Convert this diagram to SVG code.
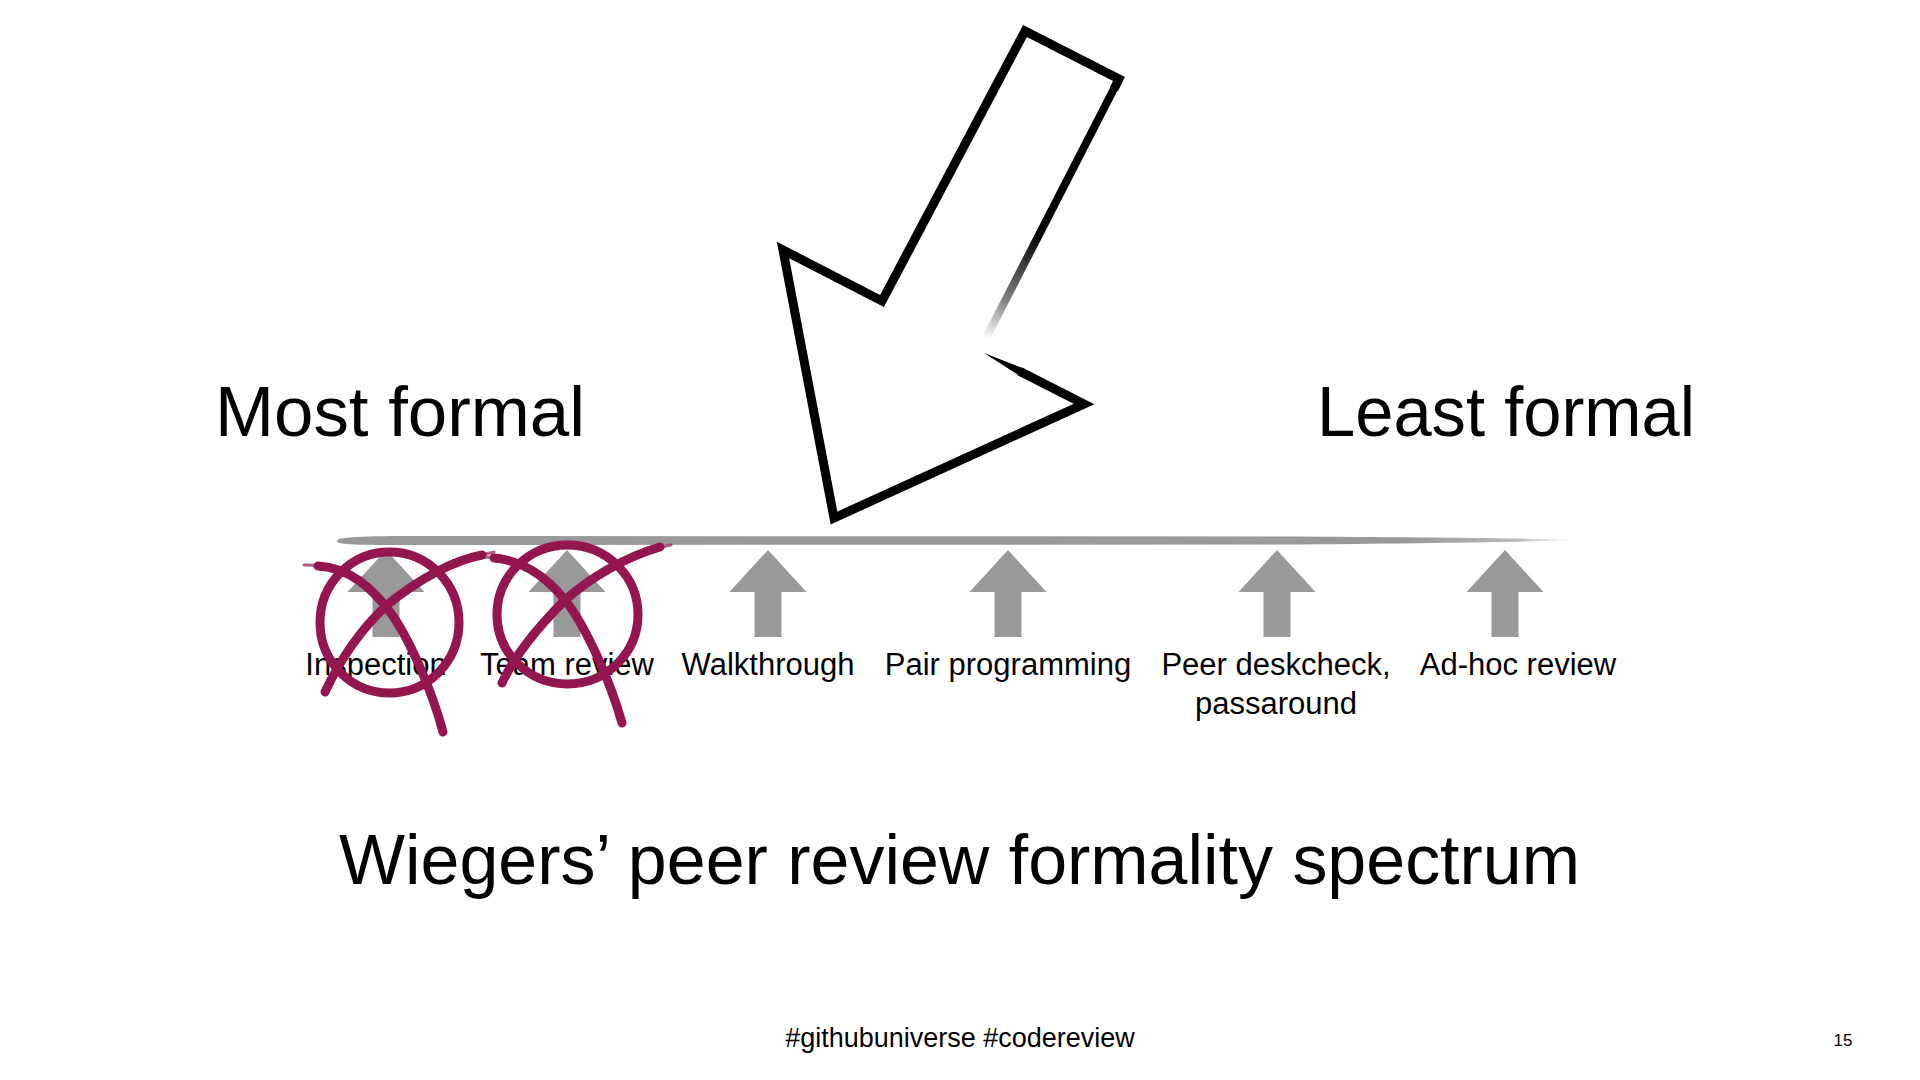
<svg xmlns="http://www.w3.org/2000/svg" width="1920" height="1080" viewBox="0 0 1920 1080">
  <style>
    .big { font-family: "Liberation Sans", Arial, sans-serif; font-size: 71px; fill: #000; }
    .lbl { font-family: "Liberation Sans", Arial, sans-serif; font-size: 31px; fill: #000; text-anchor: middle; }
    .foot { font-family: "Liberation Sans", Arial, sans-serif; font-size: 27px; fill: #000; text-anchor: middle; }
    .pnum { font-family: "Liberation Sans", Arial, sans-serif; font-size: 17px; fill: #000; text-anchor: middle; }
    .uparrow { fill: #999999; }
    .cross { fill: none; stroke: #931650; stroke-width: 9; stroke-linecap: round; stroke-linejoin: round; }
    .brush { fill: none; stroke: #931650; stroke-width: 3; stroke-linecap: round; opacity: 0.7; }
    .outline { fill: none; stroke: #000; stroke-width: 9; stroke-linejoin: miter; stroke-miterlimit: 6; }
  </style>
  <defs>
    <path id="up" class="uparrow" d="M0,550 L38.5,592 L13.5,592 L13.5,637 L-13.5,637 L-13.5,592 L-38.5,592 Z"/>
    <linearGradient id="lineFade" gradientUnits="userSpaceOnUse" x1="337" y1="0" x2="1582" y2="0">
      <stop offset="0" stop-color="#999999"/>
      <stop offset="0.86" stop-color="#999999"/>
      <stop offset="0.95" stop-color="#aaaaaa" stop-opacity="0.8"/>
      <stop offset="1" stop-color="#cccccc" stop-opacity="0"/>
    </linearGradient>
    <linearGradient id="shaftFade" gradientUnits="userSpaceOnUse" x1="1119" y1="79" x2="986" y2="338">
      <stop offset="0" stop-color="#000"/>
      <stop offset="0.6" stop-color="#000"/>
      <stop offset="0.85" stop-color="#000" stop-opacity="0.5"/>
      <stop offset="1" stop-color="#000" stop-opacity="0"/>
    </linearGradient>
  </defs>

  <rect width="1920" height="1080" fill="#ffffff"/>

  <!-- headings -->
  <g id="most-formal"><text class="big" x="215" y="436" textLength="370" lengthAdjust="spacingAndGlyphs">Most formal</text></g>
  <g id="least-formal"><text class="big" x="1317" y="436" textLength="378" lengthAdjust="spacingAndGlyphs">Least formal</text></g>
  <g id="title"><text class="big" x="339" y="884" textLength="1241" lengthAdjust="spacingAndGlyphs">Wiegers’ peer review formality spectrum</text></g>

  <!-- spectrum line -->
  <g id="spectrum-line">
    <path fill="url(#lineFade)" d="M337,541 C337,537.5 352,536.5 400,536 L1300,536.5 C1450,537.5 1540,538.5 1582,540 C1540,541.5 1450,543 1300,544.5 L400,545 C352,545 337,544.5 337,541 Z"/>
  </g>

  <!-- big pointing arrow -->
  <g id="formality-arrow">
    <path d="M984,353 L1026.1,369.4 L1022.1,377.4 Z" fill="#000"/>
    <path class="outline" d="M1019.6,371.2 L1084,404 L834,518 L783,250 L882,301 L1025,31 L1119,79 L1114,89"/>
    <path d="M1119,79 L986,338" fill="none" stroke="url(#shaftFade)" stroke-width="8" stroke-linecap="butt"/>
  </g>

  <!-- nodes -->
  <g id="node-inspection">
    <use href="#up" x="386"/>
    <text class="lbl" x="376" y="675">Inspection</text>
  </g>
  <g id="node-team-review">
    <use href="#up" x="567"/>
    <text class="lbl" x="567" y="675">Team review</text>
  </g>
  <g id="node-walkthrough">
    <use href="#up" x="768"/>
    <text class="lbl" x="768" y="675">Walkthrough</text>
  </g>
  <g id="node-pair-programming">
    <use href="#up" x="1008"/>
    <text class="lbl" x="1008" y="675">Pair programming</text>
  </g>
  <g id="node-peer-deskcheck">
    <use href="#up" x="1277"/>
    <text class="lbl" x="1276" y="675">Peer deskcheck,</text>
    <text class="lbl" x="1276" y="714">passaround</text>
  </g>
  <g id="node-adhoc-review">
    <use href="#up" x="1505"/>
    <text class="lbl" x="1518" y="675">Ad-hoc review</text>
  </g>

  <!-- crossed-out marks -->
  <g id="crosses">
    <ellipse class="cross" cx="389.5" cy="622.5" rx="69.5" ry="70.5"/>
    <path class="cross" d="M318,566 C350,568 372,588 390,612 C408,636 432,690 443,732"/>
    <path class="brush" d="M304,565 C312,565 318,565 326,566"/>
    <path class="cross" d="M325,692 C340,660 360,630 387,605 C420,578 455,560 482,555"/>
    <path class="brush" d="M478,556 C485,554 490,553 494,552"/>

    <ellipse class="cross" cx="567.5" cy="614.5" rx="70.5" ry="69.5"/>
    <path class="cross" d="M494,558 C520,560 545,575 565,600 C585,625 610,680 622,723"/>
    <path class="brush" d="M478,557 C486,557 492,557 500,558"/>
    <path class="cross" d="M502,683 C515,655 540,625 565,600 C590,578 625,557 660,547"/>
    <path class="brush" d="M655,548 C661,547 666,546 671,545"/>
  </g>

  <!-- footer -->
  <g id="footer">
    <text class="foot" x="960" y="1047">#githubuniverse #codereview</text>
    <text class="pnum" x="1843" y="1046">15</text>
  </g>
</svg>
